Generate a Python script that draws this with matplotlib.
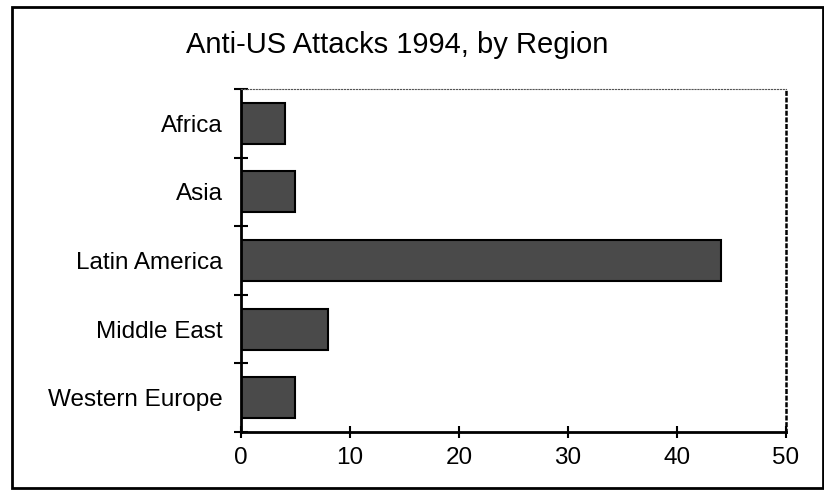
import matplotlib.pyplot as plt
import matplotlib.patches as patches
import numpy as np

# data
regions = ['Africa', 'Asia', 'Latin America', 'Middle East', 'Western Europe']
attacks = [4, 5, 44, 8, 5]
x_ticks = [0, 10, 20, 30, 40, 50]

plt.rcParams['font.family'] = ['Liberation Sans', 'DejaVu Sans']

fig = plt.figure(figsize=(8.24, 4.90), dpi=100)
ax = fig.add_axes([241/824, 1-432/490, (786-241)/824, (432-89)/490])

y = np.arange(len(regions))
ax.barh(y, attacks, height=0.6, color='#4a4a4a', edgecolor='black', linewidth=1.5)
ax.set_ylim(len(regions)-0.5, -0.5)
ax.set_xlim(0, 50)

ax.set_yticks(y)
ax.set_yticklabels(regions, fontsize=17.5)
ax.set_yticks(np.arange(-0.5, len(regions)), minor=True)
ax.tick_params(axis='y', which='major', length=0, pad=13)
ax.tick_params(axis='y', which='minor', direction='inout', length=10, width=1.5)

ax.set_xticks(x_ticks)
ax.set_xticklabels([str(t) for t in x_ticks], fontsize=17.5)
ax.tick_params(axis='x', direction='inout', length=8, width=1.5, pad=7)

ax.spines['left'].set_linewidth(2)
ax.spines['bottom'].set_linewidth(2)
ax.spines['top'].set_linestyle(':')
ax.spines['top'].set_color('#555555')
ax.spines['right'].set_linestyle(':')
ax.spines['right'].set_linewidth(1.8)

fig.text(397/824, 1-45/490, 'Anti-US Attacks 1994, by Region', ha='center', va='center', fontsize=21)

# outer frame
fig.patches.append(patches.Rectangle((12/824, 2/490), 811/824, 481/490, transform=fig.transFigure,
                                     fill=False, edgecolor='black', linewidth=2))

fig.savefig('out.png', dpi=100)
